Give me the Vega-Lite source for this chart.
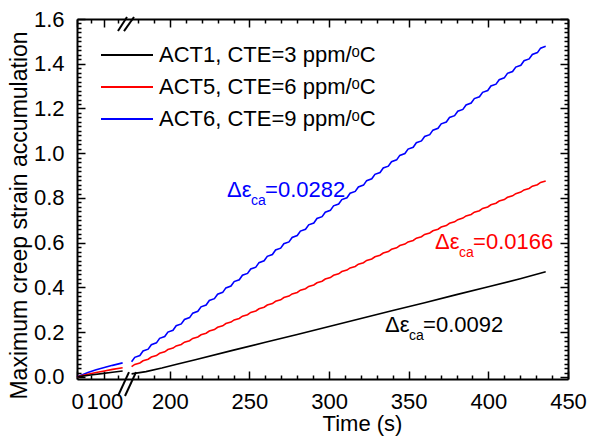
{
  "$schema": "https://vega.github.io/schema/vega-lite/v6.json",
  "width": 491,
  "height": 360,
  "autosize": "none",
  "padding": {"left": 77, "top": 19, "right": 21, "bottom": 63},
  "background": "white",
  "config": {
    "font": "Liberation Sans",
    "view": {"stroke": null},
    "axis": {
      "grid": false,
      "domainColor": "#000000",
      "domainWidth": 2,
      "tickColor": "#000000",
      "tickWidth": 1.5,
      "labelColor": "#000000",
      "labelFont": "Liberation Sans",
      "labelFontSize": 22,
      "labelOverlap": false,
      "labelFlush": false,
      "titleFont": "Liberation Sans",
      "titleFontSize": 22,
      "titleFontWeight": "normal",
      "titleColor": "#000000"
    },
    "legend": {"labelFont": "Liberation Sans", "padding": 0}
  },
  "datasets": {
    "curves": [
      {"s": "ACT6", "p": "a", "t": 0, "v": 0},
      {"s": "ACT6", "p": "a", "t": 15, "v": 0.008},
      {"s": "ACT6", "p": "a", "t": 40, "v": 0.02},
      {"s": "ACT6", "p": "a", "t": 70, "v": 0.032},
      {"s": "ACT6", "p": "a", "t": 100, "v": 0.042},
      {"s": "ACT6", "p": "a", "t": 130, "v": 0.052},
      {"s": "ACT6", "p": "a", "t": 167, "v": 0.063},
      {"s": "ACT5", "p": "a", "t": 0, "v": 0},
      {"s": "ACT5", "p": "a", "t": 15, "v": 0.005},
      {"s": "ACT5", "p": "a", "t": 40, "v": 0.012},
      {"s": "ACT5", "p": "a", "t": 70, "v": 0.02},
      {"s": "ACT5", "p": "a", "t": 100, "v": 0.027},
      {"s": "ACT5", "p": "a", "t": 130, "v": 0.034},
      {"s": "ACT5", "p": "a", "t": 167, "v": 0.041},
      {"s": "ACT1", "p": "a", "t": 0, "v": 0},
      {"s": "ACT1", "p": "a", "t": 20, "v": 0.004},
      {"s": "ACT1", "p": "a", "t": 50, "v": 0.009},
      {"s": "ACT1", "p": "a", "t": 90, "v": 0.015},
      {"s": "ACT1", "p": "a", "t": 130, "v": 0.021},
      {"s": "ACT1", "p": "a", "t": 167, "v": 0.027},
      {"s": "ACT1", "p": "b", "t": 176, "v": 0.014},
      {"s": "ACT1", "p": "b", "t": 185, "v": 0.024},
      {"s": "ACT1", "p": "b", "t": 195, "v": 0.04},
      {"s": "ACT1", "p": "b", "t": 205, "v": 0.058},
      {"s": "ACT1", "p": "b", "t": 216, "v": 0.077},
      {"s": "ACT1", "p": "b", "t": 240, "v": 0.12},
      {"s": "ACT1", "p": "b", "t": 260, "v": 0.155},
      {"s": "ACT1", "p": "b", "t": 280, "v": 0.19},
      {"s": "ACT1", "p": "b", "t": 300, "v": 0.226},
      {"s": "ACT1", "p": "b", "t": 320, "v": 0.261},
      {"s": "ACT1", "p": "b", "t": 340, "v": 0.297},
      {"s": "ACT1", "p": "b", "t": 360, "v": 0.332},
      {"s": "ACT1", "p": "b", "t": 380, "v": 0.368},
      {"s": "ACT1", "p": "b", "t": 400, "v": 0.403},
      {"s": "ACT1", "p": "b", "t": 420, "v": 0.439},
      {"s": "ACT1", "p": "b", "t": 436, "v": 0.47},
      {"s": "ACT5", "p": "b", "t": 176, "v": 0.046},
      {"s": "ACT5", "p": "b", "t": 178, "v": 0.056},
      {"s": "ACT5", "p": "b", "t": 181.2, "v": 0.0626},
      {"s": "ACT5", "p": "b", "t": 183.2, "v": 0.0726},
      {"s": "ACT5", "p": "b", "t": 186.4, "v": 0.0792},
      {"s": "ACT5", "p": "b", "t": 188.4, "v": 0.0892},
      {"s": "ACT5", "p": "b", "t": 191.6, "v": 0.0958},
      {"s": "ACT5", "p": "b", "t": 193.6, "v": 0.1058},
      {"s": "ACT5", "p": "b", "t": 196.8, "v": 0.1124},
      {"s": "ACT5", "p": "b", "t": 198.8, "v": 0.1224},
      {"s": "ACT5", "p": "b", "t": 202, "v": 0.129},
      {"s": "ACT5", "p": "b", "t": 204, "v": 0.139},
      {"s": "ACT5", "p": "b", "t": 207.2, "v": 0.1456},
      {"s": "ACT5", "p": "b", "t": 209.2, "v": 0.1556},
      {"s": "ACT5", "p": "b", "t": 212.4, "v": 0.1622},
      {"s": "ACT5", "p": "b", "t": 214.4, "v": 0.1722},
      {"s": "ACT5", "p": "b", "t": 217.6, "v": 0.1788},
      {"s": "ACT5", "p": "b", "t": 219.6, "v": 0.1888},
      {"s": "ACT5", "p": "b", "t": 222.8, "v": 0.1954},
      {"s": "ACT5", "p": "b", "t": 224.8, "v": 0.2054},
      {"s": "ACT5", "p": "b", "t": 228, "v": 0.212},
      {"s": "ACT5", "p": "b", "t": 230, "v": 0.222},
      {"s": "ACT5", "p": "b", "t": 233.2, "v": 0.2286},
      {"s": "ACT5", "p": "b", "t": 235.2, "v": 0.2386},
      {"s": "ACT5", "p": "b", "t": 238.4, "v": 0.2452},
      {"s": "ACT5", "p": "b", "t": 240.4, "v": 0.2552},
      {"s": "ACT5", "p": "b", "t": 243.6, "v": 0.2618},
      {"s": "ACT5", "p": "b", "t": 245.6, "v": 0.2718},
      {"s": "ACT5", "p": "b", "t": 248.8, "v": 0.2784},
      {"s": "ACT5", "p": "b", "t": 250.8, "v": 0.2884},
      {"s": "ACT5", "p": "b", "t": 254, "v": 0.295},
      {"s": "ACT5", "p": "b", "t": 256, "v": 0.305},
      {"s": "ACT5", "p": "b", "t": 259.2, "v": 0.3116},
      {"s": "ACT5", "p": "b", "t": 261.2, "v": 0.3216},
      {"s": "ACT5", "p": "b", "t": 264.4, "v": 0.3282},
      {"s": "ACT5", "p": "b", "t": 266.4, "v": 0.3382},
      {"s": "ACT5", "p": "b", "t": 269.6, "v": 0.3448},
      {"s": "ACT5", "p": "b", "t": 271.6, "v": 0.3548},
      {"s": "ACT5", "p": "b", "t": 274.8, "v": 0.3614},
      {"s": "ACT5", "p": "b", "t": 276.8, "v": 0.3714},
      {"s": "ACT5", "p": "b", "t": 280, "v": 0.378},
      {"s": "ACT5", "p": "b", "t": 282, "v": 0.388},
      {"s": "ACT5", "p": "b", "t": 285.2, "v": 0.3946},
      {"s": "ACT5", "p": "b", "t": 287.2, "v": 0.4046},
      {"s": "ACT5", "p": "b", "t": 290.4, "v": 0.4112},
      {"s": "ACT5", "p": "b", "t": 292.4, "v": 0.4212},
      {"s": "ACT5", "p": "b", "t": 295.6, "v": 0.4278},
      {"s": "ACT5", "p": "b", "t": 297.6, "v": 0.4378},
      {"s": "ACT5", "p": "b", "t": 300.8, "v": 0.4444},
      {"s": "ACT5", "p": "b", "t": 302.8, "v": 0.4544},
      {"s": "ACT5", "p": "b", "t": 306, "v": 0.461},
      {"s": "ACT5", "p": "b", "t": 308, "v": 0.471},
      {"s": "ACT5", "p": "b", "t": 311.2, "v": 0.4776},
      {"s": "ACT5", "p": "b", "t": 313.2, "v": 0.4876},
      {"s": "ACT5", "p": "b", "t": 316.4, "v": 0.4942},
      {"s": "ACT5", "p": "b", "t": 318.4, "v": 0.5042},
      {"s": "ACT5", "p": "b", "t": 321.6, "v": 0.5108},
      {"s": "ACT5", "p": "b", "t": 323.6, "v": 0.5208},
      {"s": "ACT5", "p": "b", "t": 326.8, "v": 0.5274},
      {"s": "ACT5", "p": "b", "t": 328.8, "v": 0.5374},
      {"s": "ACT5", "p": "b", "t": 332, "v": 0.544},
      {"s": "ACT5", "p": "b", "t": 334, "v": 0.554},
      {"s": "ACT5", "p": "b", "t": 337.2, "v": 0.5606},
      {"s": "ACT5", "p": "b", "t": 339.2, "v": 0.5706},
      {"s": "ACT5", "p": "b", "t": 342.4, "v": 0.5772},
      {"s": "ACT5", "p": "b", "t": 344.4, "v": 0.5872},
      {"s": "ACT5", "p": "b", "t": 347.6, "v": 0.5938},
      {"s": "ACT5", "p": "b", "t": 349.6, "v": 0.6038},
      {"s": "ACT5", "p": "b", "t": 352.8, "v": 0.6104},
      {"s": "ACT5", "p": "b", "t": 354.8, "v": 0.6204},
      {"s": "ACT5", "p": "b", "t": 358, "v": 0.627},
      {"s": "ACT5", "p": "b", "t": 360, "v": 0.637},
      {"s": "ACT5", "p": "b", "t": 363.2, "v": 0.6436},
      {"s": "ACT5", "p": "b", "t": 365.2, "v": 0.6536},
      {"s": "ACT5", "p": "b", "t": 368.4, "v": 0.6602},
      {"s": "ACT5", "p": "b", "t": 370.4, "v": 0.6702},
      {"s": "ACT5", "p": "b", "t": 373.6, "v": 0.6768},
      {"s": "ACT5", "p": "b", "t": 375.6, "v": 0.6868},
      {"s": "ACT5", "p": "b", "t": 378.8, "v": 0.6934},
      {"s": "ACT5", "p": "b", "t": 380.8, "v": 0.7034},
      {"s": "ACT5", "p": "b", "t": 384, "v": 0.71},
      {"s": "ACT5", "p": "b", "t": 386, "v": 0.72},
      {"s": "ACT5", "p": "b", "t": 389.2, "v": 0.7266},
      {"s": "ACT5", "p": "b", "t": 391.2, "v": 0.7366},
      {"s": "ACT5", "p": "b", "t": 394.4, "v": 0.7432},
      {"s": "ACT5", "p": "b", "t": 396.4, "v": 0.7532},
      {"s": "ACT5", "p": "b", "t": 399.6, "v": 0.7598},
      {"s": "ACT5", "p": "b", "t": 401.6, "v": 0.7698},
      {"s": "ACT5", "p": "b", "t": 404.8, "v": 0.7764},
      {"s": "ACT5", "p": "b", "t": 406.8, "v": 0.7864},
      {"s": "ACT5", "p": "b", "t": 410, "v": 0.793},
      {"s": "ACT5", "p": "b", "t": 412, "v": 0.803},
      {"s": "ACT5", "p": "b", "t": 415.2, "v": 0.8096},
      {"s": "ACT5", "p": "b", "t": 417.2, "v": 0.8196},
      {"s": "ACT5", "p": "b", "t": 420.4, "v": 0.8262},
      {"s": "ACT5", "p": "b", "t": 422.4, "v": 0.8362},
      {"s": "ACT5", "p": "b", "t": 425.6, "v": 0.8428},
      {"s": "ACT5", "p": "b", "t": 427.6, "v": 0.8528},
      {"s": "ACT5", "p": "b", "t": 430.8, "v": 0.8594},
      {"s": "ACT5", "p": "b", "t": 432.8, "v": 0.8694},
      {"s": "ACT5", "p": "b", "t": 436, "v": 0.876},
      {"s": "ACT6", "p": "b", "t": 176, "v": 0.068},
      {"s": "ACT6", "p": "b", "t": 178, "v": 0.088},
      {"s": "ACT6", "p": "b", "t": 181.2, "v": 0.0962},
      {"s": "ACT6", "p": "b", "t": 183.2, "v": 0.1162},
      {"s": "ACT6", "p": "b", "t": 186.4, "v": 0.1244},
      {"s": "ACT6", "p": "b", "t": 188.4, "v": 0.1444},
      {"s": "ACT6", "p": "b", "t": 191.6, "v": 0.1526},
      {"s": "ACT6", "p": "b", "t": 193.6, "v": 0.1726},
      {"s": "ACT6", "p": "b", "t": 196.8, "v": 0.1808},
      {"s": "ACT6", "p": "b", "t": 198.8, "v": 0.2008},
      {"s": "ACT6", "p": "b", "t": 202, "v": 0.209},
      {"s": "ACT6", "p": "b", "t": 204, "v": 0.229},
      {"s": "ACT6", "p": "b", "t": 207.2, "v": 0.2372},
      {"s": "ACT6", "p": "b", "t": 209.2, "v": 0.2572},
      {"s": "ACT6", "p": "b", "t": 212.4, "v": 0.2654},
      {"s": "ACT6", "p": "b", "t": 214.4, "v": 0.2854},
      {"s": "ACT6", "p": "b", "t": 217.6, "v": 0.2936},
      {"s": "ACT6", "p": "b", "t": 219.6, "v": 0.3136},
      {"s": "ACT6", "p": "b", "t": 222.8, "v": 0.3218},
      {"s": "ACT6", "p": "b", "t": 224.8, "v": 0.3418},
      {"s": "ACT6", "p": "b", "t": 228, "v": 0.35},
      {"s": "ACT6", "p": "b", "t": 230, "v": 0.37},
      {"s": "ACT6", "p": "b", "t": 233.2, "v": 0.3782},
      {"s": "ACT6", "p": "b", "t": 235.2, "v": 0.3982},
      {"s": "ACT6", "p": "b", "t": 238.4, "v": 0.4064},
      {"s": "ACT6", "p": "b", "t": 240.4, "v": 0.4264},
      {"s": "ACT6", "p": "b", "t": 243.6, "v": 0.4346},
      {"s": "ACT6", "p": "b", "t": 245.6, "v": 0.4546},
      {"s": "ACT6", "p": "b", "t": 248.8, "v": 0.4628},
      {"s": "ACT6", "p": "b", "t": 250.8, "v": 0.4828},
      {"s": "ACT6", "p": "b", "t": 254, "v": 0.491},
      {"s": "ACT6", "p": "b", "t": 256, "v": 0.511},
      {"s": "ACT6", "p": "b", "t": 259.2, "v": 0.5192},
      {"s": "ACT6", "p": "b", "t": 261.2, "v": 0.5392},
      {"s": "ACT6", "p": "b", "t": 264.4, "v": 0.5474},
      {"s": "ACT6", "p": "b", "t": 266.4, "v": 0.5674},
      {"s": "ACT6", "p": "b", "t": 269.6, "v": 0.5756},
      {"s": "ACT6", "p": "b", "t": 271.6, "v": 0.5956},
      {"s": "ACT6", "p": "b", "t": 274.8, "v": 0.6038},
      {"s": "ACT6", "p": "b", "t": 276.8, "v": 0.6238},
      {"s": "ACT6", "p": "b", "t": 280, "v": 0.632},
      {"s": "ACT6", "p": "b", "t": 282, "v": 0.652},
      {"s": "ACT6", "p": "b", "t": 285.2, "v": 0.6602},
      {"s": "ACT6", "p": "b", "t": 287.2, "v": 0.6802},
      {"s": "ACT6", "p": "b", "t": 290.4, "v": 0.6884},
      {"s": "ACT6", "p": "b", "t": 292.4, "v": 0.7084},
      {"s": "ACT6", "p": "b", "t": 295.6, "v": 0.7166},
      {"s": "ACT6", "p": "b", "t": 297.6, "v": 0.7366},
      {"s": "ACT6", "p": "b", "t": 300.8, "v": 0.7448},
      {"s": "ACT6", "p": "b", "t": 302.8, "v": 0.7648},
      {"s": "ACT6", "p": "b", "t": 306, "v": 0.773},
      {"s": "ACT6", "p": "b", "t": 308, "v": 0.793},
      {"s": "ACT6", "p": "b", "t": 311.2, "v": 0.8012},
      {"s": "ACT6", "p": "b", "t": 313.2, "v": 0.8212},
      {"s": "ACT6", "p": "b", "t": 316.4, "v": 0.8294},
      {"s": "ACT6", "p": "b", "t": 318.4, "v": 0.8494},
      {"s": "ACT6", "p": "b", "t": 321.6, "v": 0.8576},
      {"s": "ACT6", "p": "b", "t": 323.6, "v": 0.8776},
      {"s": "ACT6", "p": "b", "t": 326.8, "v": 0.8858},
      {"s": "ACT6", "p": "b", "t": 328.8, "v": 0.9058},
      {"s": "ACT6", "p": "b", "t": 332, "v": 0.914},
      {"s": "ACT6", "p": "b", "t": 334, "v": 0.934},
      {"s": "ACT6", "p": "b", "t": 337.2, "v": 0.9422},
      {"s": "ACT6", "p": "b", "t": 339.2, "v": 0.9622},
      {"s": "ACT6", "p": "b", "t": 342.4, "v": 0.9704},
      {"s": "ACT6", "p": "b", "t": 344.4, "v": 0.9904},
      {"s": "ACT6", "p": "b", "t": 347.6, "v": 0.9986},
      {"s": "ACT6", "p": "b", "t": 349.6, "v": 1.0186},
      {"s": "ACT6", "p": "b", "t": 352.8, "v": 1.0268},
      {"s": "ACT6", "p": "b", "t": 354.8, "v": 1.0468},
      {"s": "ACT6", "p": "b", "t": 358, "v": 1.055},
      {"s": "ACT6", "p": "b", "t": 360, "v": 1.075},
      {"s": "ACT6", "p": "b", "t": 363.2, "v": 1.0832},
      {"s": "ACT6", "p": "b", "t": 365.2, "v": 1.1032},
      {"s": "ACT6", "p": "b", "t": 368.4, "v": 1.1114},
      {"s": "ACT6", "p": "b", "t": 370.4, "v": 1.1314},
      {"s": "ACT6", "p": "b", "t": 373.6, "v": 1.1396},
      {"s": "ACT6", "p": "b", "t": 375.6, "v": 1.1596},
      {"s": "ACT6", "p": "b", "t": 378.8, "v": 1.1678},
      {"s": "ACT6", "p": "b", "t": 380.8, "v": 1.1878},
      {"s": "ACT6", "p": "b", "t": 384, "v": 1.196},
      {"s": "ACT6", "p": "b", "t": 386, "v": 1.216},
      {"s": "ACT6", "p": "b", "t": 389.2, "v": 1.2242},
      {"s": "ACT6", "p": "b", "t": 391.2, "v": 1.2442},
      {"s": "ACT6", "p": "b", "t": 394.4, "v": 1.2524},
      {"s": "ACT6", "p": "b", "t": 396.4, "v": 1.2724},
      {"s": "ACT6", "p": "b", "t": 399.6, "v": 1.2806},
      {"s": "ACT6", "p": "b", "t": 401.6, "v": 1.3006},
      {"s": "ACT6", "p": "b", "t": 404.8, "v": 1.3088},
      {"s": "ACT6", "p": "b", "t": 406.8, "v": 1.3288},
      {"s": "ACT6", "p": "b", "t": 410, "v": 1.337},
      {"s": "ACT6", "p": "b", "t": 412, "v": 1.357},
      {"s": "ACT6", "p": "b", "t": 415.2, "v": 1.3652},
      {"s": "ACT6", "p": "b", "t": 417.2, "v": 1.3852},
      {"s": "ACT6", "p": "b", "t": 420.4, "v": 1.3934},
      {"s": "ACT6", "p": "b", "t": 422.4, "v": 1.4134},
      {"s": "ACT6", "p": "b", "t": 425.6, "v": 1.4216},
      {"s": "ACT6", "p": "b", "t": 427.6, "v": 1.4416},
      {"s": "ACT6", "p": "b", "t": 430.8, "v": 1.4498},
      {"s": "ACT6", "p": "b", "t": 432.8, "v": 1.4698},
      {"s": "ACT6", "p": "b", "t": 436, "v": 1.478}
    ],
    "breaks": [
      {"t": 150, "v": 1.546, "t2": 173.5, "v2": 1.609},
      {"t": 172, "v": 1.546, "t2": 177.5, "v2": 1.609},
      {"t": 150, "v": -0.085, "t2": 174.5, "v2": 0.022},
      {"t": 172.5, "v": -0.085, "t2": 178.8, "v2": 0.022}
    ],
    "notes": [
      {"s": "ACT6", "k": "big", "t": 235.9, "v": 0.836, "txt": "Δε"},
      {"s": "ACT6", "k": "sub", "t": 251.0, "v": 0.786, "txt": "ca"},
      {"s": "ACT6", "k": "big", "t": 259.8, "v": 0.836, "txt": "=0.0282"},
      {"s": "ACT5", "k": "big", "t": 366.5, "v": 0.603, "txt": "Δε"},
      {"s": "ACT5", "k": "sub", "t": 381.6, "v": 0.553, "txt": "ca"},
      {"s": "ACT5", "k": "big", "t": 390.4, "v": 0.603, "txt": "=0.0166"},
      {"s": "ACT1", "k": "big", "t": 335.1, "v": 0.232, "txt": "Δε"},
      {"s": "ACT1", "k": "sub", "t": 350.2, "v": 0.182, "txt": "ca"},
      {"s": "ACT1", "k": "big", "t": 359.0, "v": 0.232, "txt": "=0.0092"}
    ]
  },
  "resolve": {"axis": {"x": "independent", "y": "independent"}},
  "layer": [
    {
      "data": {"name": "curves"},
      "mark": {"type": "line", "strokeWidth": 1.6},
      "encoding": {
        "x": {
          "field": "t", "type": "quantitative",
          "scale": {"domain": [0, 172, 175, 450], "range": [0, 47, 53, 491], "nice": false, "zero": false},
          "axis": {"orient": "bottom", "values": [0, 100, 200, 250, 300, 350, 400, 450], "tickSize": -8, "labelPadding": 20, "title": "Time (s)", "titlePadding": 1, "titleX": 285}
        },
        "y": {
          "field": "v", "type": "quantitative",
          "scale": {"domain": [-0.009, 1.6], "nice": false, "zero": false},
          "axis": {"orient": "left", "values": [0, 0.2, 0.4, 0.6, 0.8, 1, 1.2, 1.4, 1.6], "format": ".1f", "tickSize": -8, "labelPadding": 21, "title": "Maximum creep strain accumulation", "titleFontSize": 23, "titlePadding": 2, "titleY": 196}
        },
        "color": {
          "field": "s", "type": "nominal",
          "scale": {"domain": ["ACT1", "ACT5", "ACT6"], "range": ["#000000", "#ff0000", "#0000ff"]},
          "legend": {
            "orient": "none", "legendX": 39, "legendY": 25, "title": null,
            "symbolType": "M-5.2,0H5.2", "symbolSize": 100, "symbolStrokeWidth": 2, "symbolFillColor": "transparent",
            "labelFontSize": 22, "labelColor": "#000000", "labelOffset": 21, "labelLimit": 0, "rowPadding": 10,
            "labelExpr": "datum.label == 'ACT1' ? 'ACT1, CTE=3 ppm/ᵒC' : datum.label == 'ACT5' ? 'ACT5, CTE=6 ppm/ᵒC' : 'ACT6, CTE=9 ppm/ᵒC'"
          }
        },
        "detail": {"field": "p"}
      }
    },
    {
      "data": {"name": "breaks"},
      "mark": {"type": "rule", "strokeWidth": 2, "color": "#000000"},
      "encoding": {
        "x": {
          "field": "t", "type": "quantitative",
          "scale": {"domain": [0, 172, 175, 450], "range": [0, 47, 53, 491], "nice": false, "zero": false},
          "axis": {"orient": "top", "values": [0, 100, 200, 250, 300, 350, 400, 450], "tickSize": -8, "labels": false, "title": null}
        },
        "x2": {"field": "t2"},
        "y": {
          "field": "v", "type": "quantitative",
          "scale": {"domain": [-0.009, 1.6], "nice": false, "zero": false},
          "axis": {"orient": "right", "values": [0, 0.2, 0.4, 0.6, 0.8, 1, 1.2, 1.4, 1.6], "tickSize": -8, "labels": false, "title": null}
        },
        "y2": {"field": "v2"}
      }
    },
    {
      "data": {"name": "notes"},
      "transform": [{"filter": "datum.k == 'big'"}],
      "mark": {"type": "text", "fontSize": 22, "align": "left", "baseline": "middle", "font": "Liberation Sans"},
      "encoding": {
        "x": {
          "field": "t", "type": "quantitative",
          "scale": {"domain": [0, 172, 175, 450], "range": [0, 47, 53, 491], "nice": false, "zero": false},
          "axis": {"orient": "bottom", "values": [50, 150, 180, 190, 210, 220, 230, 240, 260, 270, 280, 290, 310, 320, 330, 340, 360, 370, 380, 390, 410, 420, 430, 440], "tickSize": -4, "labels": false, "domain": false, "title": null}
        },
        "y": {
          "field": "v", "type": "quantitative",
          "scale": {"domain": [-0.009, 1.6], "nice": false, "zero": false},
          "axis": {"orient": "left", "values": [0.02, 0.04, 0.06, 0.08, 0.1, 0.12, 0.14, 0.16, 0.18, 0.22, 0.24, 0.26, 0.28, 0.3, 0.32, 0.34, 0.36, 0.38, 0.42, 0.44, 0.46, 0.48, 0.5, 0.52, 0.54, 0.56, 0.58, 0.62, 0.64, 0.66, 0.68, 0.7, 0.72, 0.74, 0.76, 0.78, 0.82, 0.84, 0.86, 0.88, 0.9, 0.92, 0.94, 0.96, 0.98, 1.02, 1.04, 1.06, 1.08, 1.1, 1.12, 1.14, 1.16, 1.18, 1.22, 1.24, 1.26, 1.28, 1.3, 1.32, 1.34, 1.36, 1.38, 1.42, 1.44, 1.46, 1.48, 1.5, 1.52, 1.54, 1.56, 1.58], "tickSize": -4, "labels": false, "domain": false, "title": null}
        },
        "color": {"field": "s", "type": "nominal", "legend": null},
        "text": {"field": "txt"}
      }
    },
    {
      "data": {"name": "notes"},
      "transform": [{"filter": "datum.k == 'sub'"}],
      "mark": {"type": "text", "fontSize": 14, "align": "left", "baseline": "middle", "font": "Liberation Sans"},
      "encoding": {
        "x": {
          "field": "t", "type": "quantitative",
          "scale": {"domain": [0, 172, 175, 450], "range": [0, 47, 53, 491], "nice": false, "zero": false},
          "axis": {"orient": "top", "values": [50, 150, 180, 190, 210, 220, 230, 240, 260, 270, 280, 290, 310, 320, 330, 340, 360, 370, 380, 390, 410, 420, 430, 440], "tickSize": -4, "labels": false, "domain": false, "title": null}
        },
        "y": {
          "field": "v", "type": "quantitative",
          "scale": {"domain": [-0.009, 1.6], "nice": false, "zero": false},
          "axis": {"orient": "right", "values": [0.02, 0.04, 0.06, 0.08, 0.1, 0.12, 0.14, 0.16, 0.18, 0.22, 0.24, 0.26, 0.28, 0.3, 0.32, 0.34, 0.36, 0.38, 0.42, 0.44, 0.46, 0.48, 0.5, 0.52, 0.54, 0.56, 0.58, 0.62, 0.64, 0.66, 0.68, 0.7, 0.72, 0.74, 0.76, 0.78, 0.82, 0.84, 0.86, 0.88, 0.9, 0.92, 0.94, 0.96, 0.98, 1.02, 1.04, 1.06, 1.08, 1.1, 1.12, 1.14, 1.16, 1.18, 1.22, 1.24, 1.26, 1.28, 1.3, 1.32, 1.34, 1.36, 1.38, 1.42, 1.44, 1.46, 1.48, 1.5, 1.52, 1.54, 1.56, 1.58], "tickSize": -4, "labels": false, "domain": false, "title": null}
        },
        "color": {"field": "s", "type": "nominal", "legend": null},
        "text": {"field": "txt"}
      }
    }
  ]
}
